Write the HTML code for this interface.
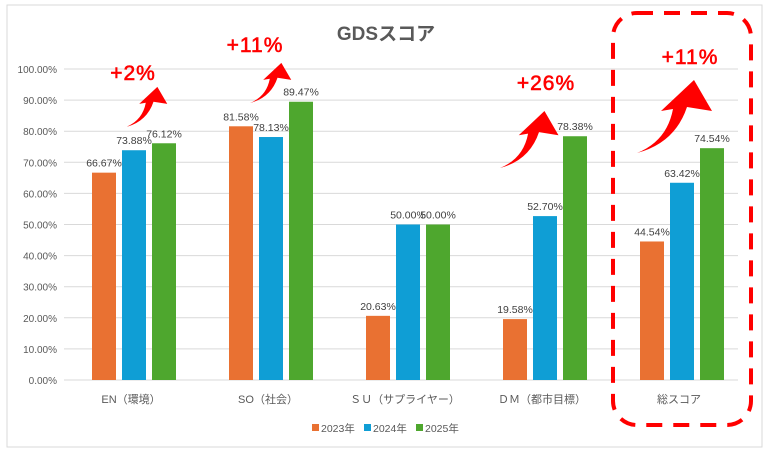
<!DOCTYPE html>
<html><head><meta charset="utf-8"><style>
body{margin:0;background:#fff;font-family:"Liberation Sans","Noto Sans CJK JP",sans-serif}
svg text{font-family:"Liberation Sans","Noto Sans CJK JP",sans-serif}
</style></head><body>
<svg id="c" width="769" height="453">
<rect x="7" y="5" width="755" height="442" fill="#fff" stroke="#d9d9d9"/>
<text x="386" y="40" text-anchor="middle" font-size="19" font-weight="bold" fill="#595959">GDSスコア</text>
<g id="grid"></g><g id="bars"></g><g id="ann"></g>
</svg>
<script>
const categories=["EN（環境）","SO（社会）","ＳＵ（サプライヤー）","ＤＭ（都市目標）","総スコア"];
const s2023=[66.67,81.58,20.63,19.58,44.54];
const s2024=[73.88,78.13,50.00,52.70,63.42];
const s2025=[76.12,89.47,50.00,78.38,74.54];
const seriesNames=["2023年","2024年","2025年"];
const colors=["#e97132","#0f9ed5","#4ea72e"];
const ticks=[0,10,20,30,40,50,60,70,80,90,100];
const NS="http://www.w3.org/2000/svg";
const y=v=>380-v*3.11, x0=68, step=137;
const cx=i=>x0+step*(i+0.5)-2.5;
function mk(t,a,p){const e=document.createElementNS(NS,t);for(const k in a)e.setAttribute(k,a[k]);p.appendChild(e);return e;}
const G=document.getElementById('grid'),B=document.getElementById('bars'),A=document.getElementById('ann');
ticks.forEach(t=>{
 const l=mk('line',{x1:64,x2:738,y1:y(t),y2:y(t),stroke:'#d9d9d9'},G);
 
 
 const tx=mk('text',{x:57,y:y(t)+4,'text-anchor':'end','font-size':10,fill:'#595959'},G);
 tx.textContent=t.toFixed(2)+'%';
 
 
});
[s2023,s2024,s2025].forEach((s,si)=>{
 s.forEach((v,i)=>{
  const bx=cx(i)+(si-1)*30-12;
  const r=mk('rect',{x:bx,y:y(v),width:24,height:y(0)-y(v),fill:colors[si]},B);
  
  
  const t=mk('text',{x:bx+12,y:y(v)-6,'text-anchor':'middle','font-size':10.5,fill:'#404040'},B);
  t.textContent=v.toFixed(2)+'%';
  
  
 });
});
categories.forEach((c,i)=>{
 const t=mk('text',{x:cx(i)-3,y:403,'text-anchor':'middle','font-size':11,fill:'#595959'},B);
 t.textContent=c;
 
 
});
seriesNames.forEach((n,i)=>{
 const lx=312+i*52;
 const r=mk('rect',{x:lx,y:424,width:7,height:7,fill:colors[i]},B);
 
 
 const t=mk('text',{x:lx+9,y:432,'font-size':10.5,fill:'#595959'},B);
 t.textContent=n;
 
 
});
const arrowPath="M0,0 Q38,-10 50,-46 L75,-42 L57,-73 L24,-42 L36,-44 Q30,-12 0,0 Z";
[[126,127,0.55],[250,103,0.55],[500,168,0.78],[637,153,1.0]].forEach(a=>{
 const p=mk('path',{d:arrowPath,fill:'#ff0000',transform:`translate(${a[0]},${a[1]}) scale(${a[2]})`},A);
 
 
});
[["+2%",133,80],["+11%",255,52],["+26%",546,90],["+11%",690,64]].forEach(l=>{
 const t=mk('text',{x:l[1],y:l[2],'text-anchor':'middle','font-size':21,'letter-spacing':1,fill:'#ff0000',stroke:'#ff0000','stroke-width':0.6},A);
 t.textContent=l[0];
 
 
});
const hr=mk('rect',{x:613,y:13,width:138,height:412,rx:24,fill:'none',stroke:'#ff0000','stroke-width':4,'stroke-dasharray':'16 11'},A);


</script>
</body></html>
